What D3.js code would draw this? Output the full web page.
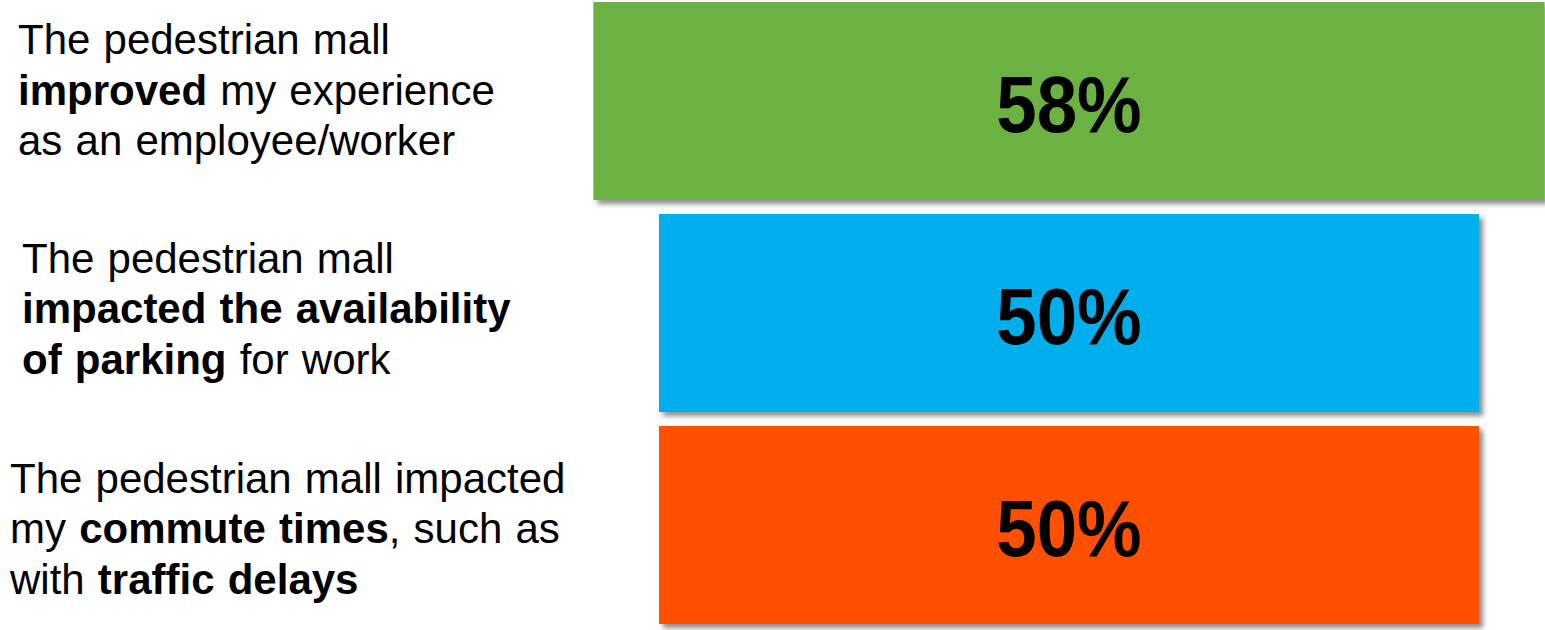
<!DOCTYPE html>
<html>
<head>
<meta charset="utf-8">
<script src="https://cdn.jsdelivr.net/npm/d3@7"></script>
<style>
  html, body { margin: 0; padding: 0; background: #fff; }
  svg { display: block; font-family: "Liberation Sans", Arial, sans-serif; }
</style>
</head>
<body>
<svg id="chart" width="1545" height="630"></svg>
<script>
// ---- data ----
const categories = ["improved", "parking", "commute"];
const values = [58, 50, 50];
const valueLabels = ["58%", "50%", "50%"];
const colors = ["#6cb242", "#00aeeb", "#ff5000"];
// each label: lines of [text, bold] segments
const labels = [
  [[["The pedestrian mall", false]],
   [["improved", true], [" my experience", false]],
   [["as an employee/worker", false]]],
  [[["The pedestrian mall", false]],
   [["impacted the availability", true]],
   [["of parking", true], [" for work", false]]],
  [[["The pedestrian mall impacted", false]],
   [["my ", false], ["commute times", true], [", such as", false]],
   [["with ", false], ["traffic delays", true]]]
];

// ---- layout ----
const svg = d3.select("#chart");
const cx = 1069;
const labelX = [18, 22, 10];
const labelDy = [52, 59, 67];

const y = d3.scaleBand().domain(categories).range([2, 624]).paddingInner(0.066).paddingOuter(0);
const w = d3.scaleLinear().domain([0, 100]).range([0, 1640]);

const defs = svg.append("defs");
const f = defs.append("filter").attr("id", "shadow")
  .attr("x", "-5%").attr("y", "-10%").attr("width", "115%").attr("height", "130%");
f.append("feDropShadow").attr("dx", 4).attr("dy", 4).attr("stdDeviation", 2.5)
  .attr("flood-color", "#000").attr("flood-opacity", 0.45);

const rows = categories.map((c, i) => ({ c, v: values[i], lab: valueLabels[i], col: colors[i], i }));

svg.selectAll("rect.bar").data(rows).enter().append("rect")
  .attr("class", "bar")
  .attr("x", d => cx - w(d.v) / 2)
  .attr("y", d => y(d.c))
  .attr("width", d => w(d.v))
  .attr("height", y.bandwidth())
  .attr("fill", d => d.col)
  .attr("filter", "url(#shadow)");

svg.selectAll("text.val").data(rows).enter().append("text")
  .attr("class", "val")
  .attr("transform", d => `translate(${cx},${y(d.c) + y.bandwidth() / 2 + 31}) scale(0.92,1)`)
  .attr("text-anchor", "middle")
  .attr("font-size", 79)
  .attr("font-weight", "bold")
  .attr("fill", "#000")
  .text(d => d.lab);

rows.forEach((d, i) => {
  const t = svg.append("text")
    .attr("x", labelX[i])
    .attr("y", y(d.c) + labelDy[i])
    .attr("font-size", 42)
    .attr("word-spacing", 1.5)
    .attr("fill", "#000");
  labels[i].forEach((line, li) => {
    line.forEach((seg, si) => {
      const ts = t.append("tspan").text(seg[0])
        .attr("font-weight", seg[1] ? "bold" : "normal")
        .style("white-space", "pre");
      if (si === 0) ts.attr("x", labelX[i]).attr("dy", li === 0 ? 0 : 50.5);
    });
  });
});
</script>
</body>
</html>
